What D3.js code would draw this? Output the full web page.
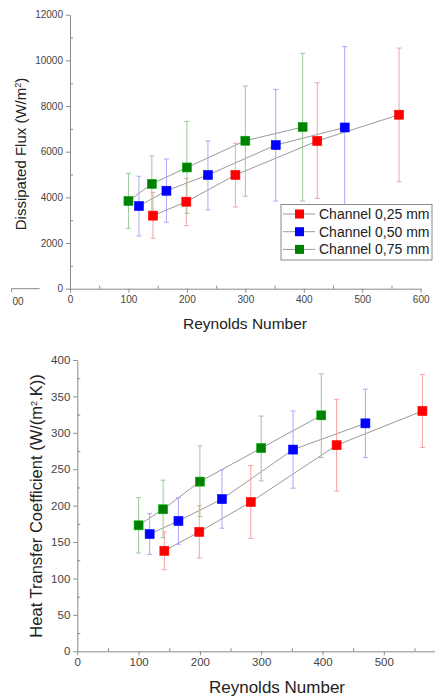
<!DOCTYPE html>
<html>
<head>
<meta charset="utf-8">
<script src="https://cdn.jsdelivr.net/npm/d3@7"></script>
<style>
  body { margin: 0; background: #fff; }
  svg { display: block; font-family: "Liberation Sans", Arial, sans-serif; }
</style>
</head>
<body>
<div id="chart"></div>
<script>
// Reynolds numbers per channel
const reRed = [142, 199, 283, 423, 563];
const reBlue = [118, 165, 236, 352, 470];
const reGreen = [100, 140, 200, 300, 398];

// Dissipated flux (W/m2) with error bar limits
const fluxRed = [3200, 3810, 4980, 6470, 7620];
const fluxRedLo = [2210, 2760, 3580, 3960, 4690];
const fluxRedHi = [4220, 4835, 6370, 9020, 10540];
const fluxBlue = [3620, 4290, 4980, 6290, 7060];
const fluxBlueLo = [2310, 2910, 3450, 3840, 3500];
const fluxBlueHi = [4925, 5680, 6470, 8730, 10600];
const fluxGreen = [3840, 4590, 5310, 6480, 7080];
const fluxGreenLo = [2645, 3360, 3300, 4050, 3840];
const fluxGreenHi = [5050, 5810, 7330, 8880, 10310];

// Heat transfer coefficient (W/(m2.K)) with error bar limits
const htcRed = [138, 164, 205, 283, 330];
const htcRedLo = [112, 128, 155, 220, 280];
const htcRedHi = [164, 200, 255, 346, 380];
const htcBlue = [161, 179, 209, 277, 313];
const htcBlueLo = [133, 147, 169, 224, 266];
const htcBlueHi = [189, 211, 249, 330, 360];
const htcGreen = [173, 195, 233, 279, 324];
const htcGreenLo = [135, 156, 185, 234, 266];
const htcGreenHi = [211, 235, 282, 323, 381];

const seriesNames = ["Channel 0,25 mm", "Channel 0,50 mm", "Channel 0,75 mm"];
const colors = ["#ff0000", "#0000ff", "#008000"];
const barColors = ["#f7a3a3", "#a8a8fb", "#9cc89c"];

const svg = d3.select("#chart").append("svg")
  .attr("width", 435)
  .attr("height", 697);

function makeSeries(re, val, lo, hi) {
  return re.map((r, i) => ({ x: r, y: val[i], lo: lo[i], hi: hi[i] }));
}

function drawPanel(opts) {
  const g = svg.append("g");
  const x = d3.scaleLinear().domain([0, 600]).range(opts.xRange);
  const y = d3.scaleLinear().domain(opts.yDomain).range(opts.yRange);

  // axes: major ticks outward, minor ticks inward
  g.append("g")
    .attr("transform", `translate(0,${opts.yRange[0]})`)
    .call(d3.axisBottom(x).tickValues(opts.xTicks).tickSize(4).tickSizeOuter(0).tickPadding(3));
  g.append("g")
    .attr("transform", `translate(0,${opts.yRange[0]})`)
    .call(d3.axisTop(x).tickValues(d3.range(50, 600, 100)).tickSize(3).tickFormat(""))
    .select(".domain").remove();

  g.append("g")
    .attr("transform", `translate(${opts.xRange[0]},0)`)
    .call(d3.axisLeft(y).tickValues(opts.yTicks).tickSize(4).tickSizeOuter(0).tickPadding(3).tickFormat(d3.format("d")));
  g.append("g")
    .attr("transform", `translate(${opts.xRange[0]},0)`)
    .call(d3.axisRight(y).tickValues(opts.yMinor).tickSize(3).tickFormat(""))
    .select(".domain").remove();

  g.selectAll(".domain, .tick line").attr("stroke", "#8a8a8a");
  g.selectAll(".tick text")
    .attr("fill", "#444")
    .style("font-size", opts.tickFont);

  // axis titles
  g.append("text")
    .attr("x", opts.xTitlePos[0])
    .attr("y", opts.xTitlePos[1])
    .attr("text-anchor", "middle")
    .attr("fill", "#222")
    .style("font-size", opts.xTitleFont)
    .text("Reynolds Number");

  const yt = g.append("text")
    .attr("transform", `translate(${opts.yTitlePos[0]},${opts.yTitlePos[1]}) rotate(-90)`)
    .attr("text-anchor", "middle")
    .attr("fill", "#222")
    .style("font-size", opts.yTitleFont);
  opts.yTitle.forEach(part => {
    const t = yt.append("tspan").text(part.t);
    if (part.sup) t.attr("baseline-shift", "super").style("font-size", "9px");
  });

  const line = d3.line().x(d => x(d.x)).y(d => y(d.y));

  opts.series.forEach(s => {
    g.append("path")
      .datum(s)
      .attr("d", line)
      .attr("fill", "none")
      .attr("stroke", "#9a9a9a")
      .attr("stroke-width", 1);
  });

  opts.series.forEach((s, k) => {
    const bars = g.append("g").attr("stroke", barColors[k]).attr("stroke-width", 1);
    s.forEach(d => {
      bars.append("line").attr("x1", x(d.x)).attr("x2", x(d.x)).attr("y1", y(d.lo)).attr("y2", y(d.hi));
      bars.append("line").attr("x1", x(d.x) - 2.5).attr("x2", x(d.x) + 2.5).attr("y1", y(d.lo)).attr("y2", y(d.lo));
      bars.append("line").attr("x1", x(d.x) - 2.5).attr("x2", x(d.x) + 2.5).attr("y1", y(d.hi)).attr("y2", y(d.hi));
    });
  });

  opts.series.forEach((s, k) => {
    g.selectAll(null)
      .data(s)
      .enter()
      .append("rect")
      .attr("x", d => x(d.x) - 4.5)
      .attr("y", d => y(d.y) - 4.5)
      .attr("width", 9)
      .attr("height", 9)
      .attr("fill", colors[k])
      .attr("stroke", d3.color(colors[k]).brighter(0.8))
      .attr("stroke-width", 0.6);
  });

  return { g, x, y };
}

// top panel
const topPanel = drawPanel({
  xRange: [70, 420.7],
  yRange: [288.7, 14.7],
  yDomain: [0, 12000],
  xTicks: d3.range(0, 601, 100),
  yTicks: d3.range(0, 12001, 2000),
  yMinor: d3.range(1000, 12000, 2000),
  tickFont: "10px",
  xTitleFont: "15.5px",
  yTitleFont: "15px",
  xTitlePos: [245, 329],
  yTitlePos: [26, 154],
  yTitle: [{ t: "Dissipated Flux (W/m" }, { t: "2", sup: true }, { t: ")" }],
  series: [
    makeSeries(reRed, fluxRed, fluxRedLo, fluxRedHi),
    makeSeries(reBlue, fluxBlue, fluxBlueLo, fluxBlueHi),
    makeSeries(reGreen, fluxGreen, fluxGreenLo, fluxGreenHi)
  ]
});

// stray axis fragment at the left edge of the top panel
topPanel.g.append("line")
  .attr("x1", topPanel.x(-100)).attr("x2", topPanel.x(-52))
  .attr("y1", 288.7).attr("y2", 288.7)
  .attr("stroke", "#8a8a8a");
topPanel.g.append("line")
  .attr("x1", topPanel.x(-100)).attr("x2", topPanel.x(-100))
  .attr("y1", 288.7).attr("y2", 292)
  .attr("stroke", "#8a8a8a");
topPanel.g.append("text")
  .attr("x", topPanel.x(-100) + 1)
  .attr("y", 305)
  .attr("fill", "#444")
  .style("font-size", "10px")
  .text("00");

// legend
const legend = topPanel.g.append("g").attr("transform", "translate(281,204.5)");
legend.append("rect")
  .attr("width", 151)
  .attr("height", 55.5)
  .attr("fill", "#fff")
  .attr("stroke", "#8a8a8a");
seriesNames.forEach((name, k) => {
  const row = legend.append("g").attr("transform", `translate(0,${9.5 + k * 17.7})`);
  row.append("line").attr("x1", 2).attr("x2", 34).attr("stroke", "#9a9a9a");
  row.append("rect").attr("x", 14).attr("y", -4.5).attr("width", 9).attr("height", 9).attr("fill", colors[k]);
  row.append("text")
    .attr("x", 38)
    .attr("y", 5)
    .attr("fill", "#222")
    .style("font-size", "14px")
    .text(name);
});

// bottom panel (cropped on the right, so no 600 label)
drawPanel({
  xRange: [77.3, 445.1],
  yRange: [651.3, 360],
  yDomain: [0, 400],
  xTicks: d3.range(0, 501, 100),
  yTicks: d3.range(0, 401, 50),
  yMinor: d3.range(25, 400, 50),
  tickFont: "11.5px",
  xTitleFont: "17px",
  yTitleFont: "16.5px",
  xTitlePos: [277, 693],
  yTitlePos: [42, 506],
  yTitle: [{ t: "Heat Transfer Coefficient (W/(m" }, { t: "2", sup: true }, { t: ".K))" }],
  series: [
    makeSeries(reRed, htcRed, htcRedLo, htcRedHi),
    makeSeries(reBlue, htcBlue, htcBlueLo, htcBlueHi),
    makeSeries(reGreen, htcGreen, htcGreenLo, htcGreenHi)
  ]
});
</script>
</body>
</html>
